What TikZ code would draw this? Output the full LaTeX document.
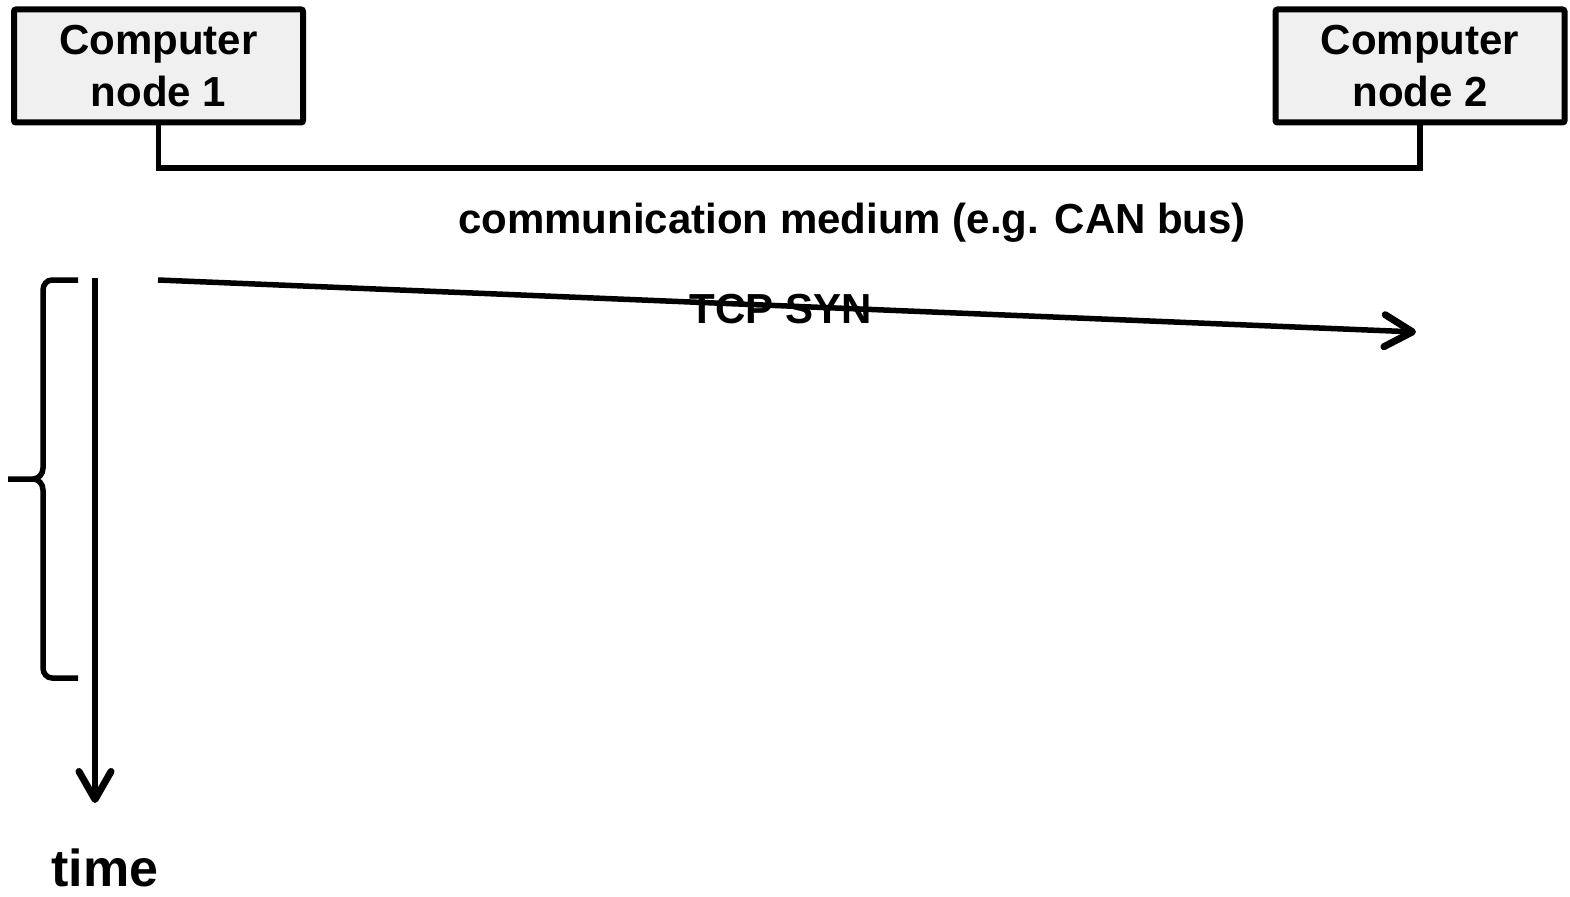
\documentclass[tikz,border=0pt]{standalone}
\usepackage{fontspec}
\setmainfont{Liberation Sans}
\usetikzlibrary{arrows.meta}
\tikzset{
  compbox/.style={draw=black, line width=6pt, fill={rgb,255:red,240;green,240;blue,240}, rounded corners=2pt,
    minimum width=289pt, minimum height=113pt, inner sep=0pt, align=center,
    font=\fontsize{42}{52}\selectfont\bfseries},
  lbl/.style={font=\fontsize{42}{52}\selectfont\bfseries, inner sep=0pt},
  wire/.style={line width=5.5pt},
  barb/.style={-{Straight Barb[length=28pt,width=32pt,line width=7pt,line cap=round,round]}},
  msg/.style={line width=5.5pt, barb},
}
\begin{document}
\begin{tikzpicture}[x=1pt,y=-1pt]
\useasboundingbox (0,0) rectangle (1570,896);
\node[compbox] (n1) at (158.5,66) {Computer\\node 1};
\node[compbox] (n2) at (1420,66) {Computer\\node 2};
\coordinate (b1) at (158.5,168);
\coordinate (b2) at (1420,168);
\draw[wire] (n1.south) -- (b1) -- (b2) -- (n2.south);
\node[lbl] (medium) at (852,223) {communication medium (e.g. CAN bus)};
\node[lbl] (syn) at (781,309) {TCP SYN};
\coordinate (s1) at (158,280);
\coordinate (s2) at (1416,332);
\draw[msg] (s1) -- (s2);
\coordinate (t1) at (95,278);
\coordinate (t2) at (95,803);
\draw[line width=5.5pt, barb] (t1) -- (t2);
\node[lbl, font=\fontsize{52}{60}\selectfont\bfseries] (time) at (105,868) {time};
\draw[line width=5.5pt, line cap=butt]
  (78,280) -- (52,280) to[out=180,in=90] (43,290) -- (43,468)
  to[out=-90,in=0] (33,479) -- (8,479)
  (33,479) to[out=0,in=90] (43,490) -- (43,668)
  to[out=-90,in=180] (52,678) -- (78,678);
\end{tikzpicture}
\end{document}
